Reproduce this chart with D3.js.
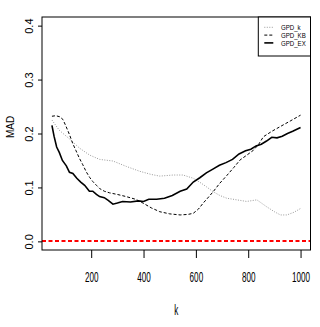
<!DOCTYPE html>
<html>
<head>
<meta charset="utf-8">
<script src="https://cdn.jsdelivr.net/npm/d3@7"></script>
<style>
  body { margin: 0; background: #fff; }
  text { font-family: "Liberation Sans", Arial, sans-serif; fill: #000; }
</style>
</head>
<body>
<div id="d3-container"></div>
<script>
const width = 320,
  height = 327,
  margin = { top: 17, bottom: 77, left: 42, right: 9.5 };

// series
const seriesNames = ["GPD_k", "GPD_KB", "GPD_EX"];

const kGPDk = [50, 78, 117, 155, 194, 232, 283, 334, 385, 430, 462, 513, 551, 590, 620, 641, 666, 692, 718, 769, 794, 833, 871, 900, 923, 948, 975, 1000];
const madGPDk = [0.225, 0.206, 0.190, 0.173, 0.160, 0.152, 0.149, 0.139, 0.130, 0.124, 0.121, 0.123, 0.123, 0.117, 0.108, 0.101, 0.092, 0.085, 0.080, 0.076, 0.074, 0.077, 0.064, 0.055, 0.049, 0.049, 0.054, 0.061];

const kGPDKB = [50, 65, 80, 92, 104, 117, 129, 142, 155, 168, 181, 195, 206, 220, 232, 250, 270, 300, 334, 370, 398, 430, 462, 500, 540, 570, 590, 610, 628, 650, 666, 690, 718, 745, 769, 795, 820, 840, 858, 890, 923, 960, 1000];
const madGPDKB = [0.232, 0.233, 0.231, 0.226, 0.213, 0.198, 0.182, 0.168, 0.154, 0.142, 0.129, 0.118, 0.111, 0.104, 0.098, 0.093, 0.090, 0.087, 0.083, 0.078, 0.071, 0.062, 0.055, 0.051, 0.049, 0.050, 0.052, 0.060, 0.071, 0.083, 0.092, 0.107, 0.122, 0.137, 0.151, 0.160, 0.169, 0.180, 0.194, 0.204, 0.213, 0.223, 0.234];

const kGPDEX = [50, 58, 68, 78, 90, 105, 117, 130, 145, 160, 175, 193, 206, 220, 232, 250, 265, 283, 300, 320, 350, 380, 400, 420, 450, 480, 510, 540, 565, 590, 615, 640, 665, 690, 715, 740, 765, 790, 810, 830, 850, 870, 890, 910, 930, 950, 970, 1000];
const madGPDEX = [0.215, 0.195, 0.175, 0.165, 0.150, 0.140, 0.128, 0.126, 0.117, 0.110, 0.104, 0.093, 0.093, 0.087, 0.083, 0.081, 0.076, 0.069, 0.071, 0.074, 0.073, 0.075, 0.074, 0.078, 0.078, 0.080, 0.085, 0.093, 0.097, 0.110, 0.118, 0.127, 0.134, 0.141, 0.146, 0.152, 0.162, 0.168, 0.171, 0.177, 0.180, 0.186, 0.193, 0.192, 0.195, 0.200, 0.204, 0.211];

const xTicks = [200, 400, 600, 800, 1000];
const yTicks = [0.0, 0.1, 0.2, 0.3, 0.4];
const refLine = 0;

const series = [
  { name: seriesNames[0], k: kGPDk, v: madGPDk, color: "#9a9a9a", dash: "1,1.5", w: 1 },
  { name: seriesNames[1], k: kGPDKB, v: madGPDKB, color: "#000", dash: "3,2", w: 1 },
  { name: seriesNames[2], k: kGPDEX, v: madGPDEX, color: "#000", dash: null, w: 1.6 },
];

const svg = d3.select("#d3-container")
  .append("svg")
  .attr("width", width)
  .attr("height", height);

const x = d3.scaleLinear()
  .domain([12, 1038])
  .range([margin.left, width - margin.right]);

const y = d3.scaleLinear()
  .domain([-0.016, 0.416])
  .range([height - margin.bottom, margin.top]);

// x axis
const xAxis = svg.append("g")
  .attr("transform", `translate(0,${height - margin.bottom})`)
  .call(d3.axisBottom(x).tickValues(xTicks).tickSize(8).tickFormat(d3.format("d")));
xAxis.select(".domain").remove();
xAxis.selectAll("text")
  .attr("y", 32.5)
  .attr("dy", 0)
  .attr("fill", "#000")
  .attr("transform", "scale(0.58,1)")
  .style("font-size", "14px")
  .style("font-family", "Liberation Sans, Arial");

// y axis
const yAxis = svg.append("g")
  .attr("transform", `translate(${margin.left},0)`)
  .call(d3.axisLeft(y).tickValues(yTicks).tickSize(4).tickFormat(d3.format(".1f")));
yAxis.select(".domain").remove();
yAxis.selectAll("text")
  .attr("x", 0)
  .attr("y", 0)
  .attr("dy", 0)
  .attr("fill", "#000")
  .attr("text-anchor", "middle")
  .attr("transform", "translate(-8.7,0) rotate(-90)")
  .style("font-size", "11px")
  .style("font-family", "Liberation Sans, Arial");
svg.selectAll(".tick line").attr("stroke", "#000");

// reference line, snapped so it stays bright red
svg.append("line")
  .attr("x1", margin.left)
  .attr("x2", width - margin.right)
  .attr("y1", Math.round(y(refLine)))
  .attr("y2", Math.round(y(refLine)))
  .attr("stroke", "#ff0000")
  .attr("stroke-width", 2)
  .attr("stroke-dasharray", "4,2.5");

// curves
const line = d3.line()
  .x(d => x(d[0]))
  .y(d => y(d[1]));

svg.selectAll(".series")
  .data(series)
  .join("path")
  .attr("class", "series")
  .attr("d", s => line(d3.zip(s.k, s.v)))
  .attr("fill", "none")
  .attr("stroke", s => s.color)
  .attr("stroke-width", s => s.w)
  .attr("stroke-dasharray", s => s.dash);

// box
svg.append("rect")
  .attr("x", margin.left)
  .attr("y", margin.top)
  .attr("width", width - margin.left - margin.right)
  .attr("height", height - margin.top - margin.bottom)
  .attr("fill", "none")
  .attr("stroke", "#000");

// legend
const lg = svg.append("g");
lg.append("rect")
  .attr("x", 258.3)
  .attr("y", margin.top)
  .attr("width", width - margin.right - 258.3)
  .attr("height", 39)
  .attr("fill", "#fff")
  .attr("stroke", "#000");

const rows = lg.selectAll(".row")
  .data(series)
  .join("g")
  .attr("transform", (d, i) => `translate(0,${27.3 + i * 7.8})`);

rows.append("line")
  .attr("x1", 264.3)
  .attr("x2", 273.3)
  .attr("stroke", d => d.color)
  .attr("stroke-width", d => d.w)
  .attr("stroke-dasharray", d => d.dash);

rows.append("text")
  .attr("transform", "translate(281,2.6) scale(0.9,1)")
  .style("font-size", "6.8px")
  .text(d => d.name);

// axis titles
svg.append("text")
  .attr("transform", `translate(${(margin.left + width - margin.right) / 2},315) scale(0.58,1)`)
  .attr("text-anchor", "middle")
  .style("font-size", "14px")
  .text("k");

svg.append("text")
  .attr("transform", `translate(14,${y(0.2) - 6.5}) rotate(-90)`)
  .attr("text-anchor", "middle")
  .style("font-size", "10px")
  .text("MAD");
</script>
</body>
</html>
